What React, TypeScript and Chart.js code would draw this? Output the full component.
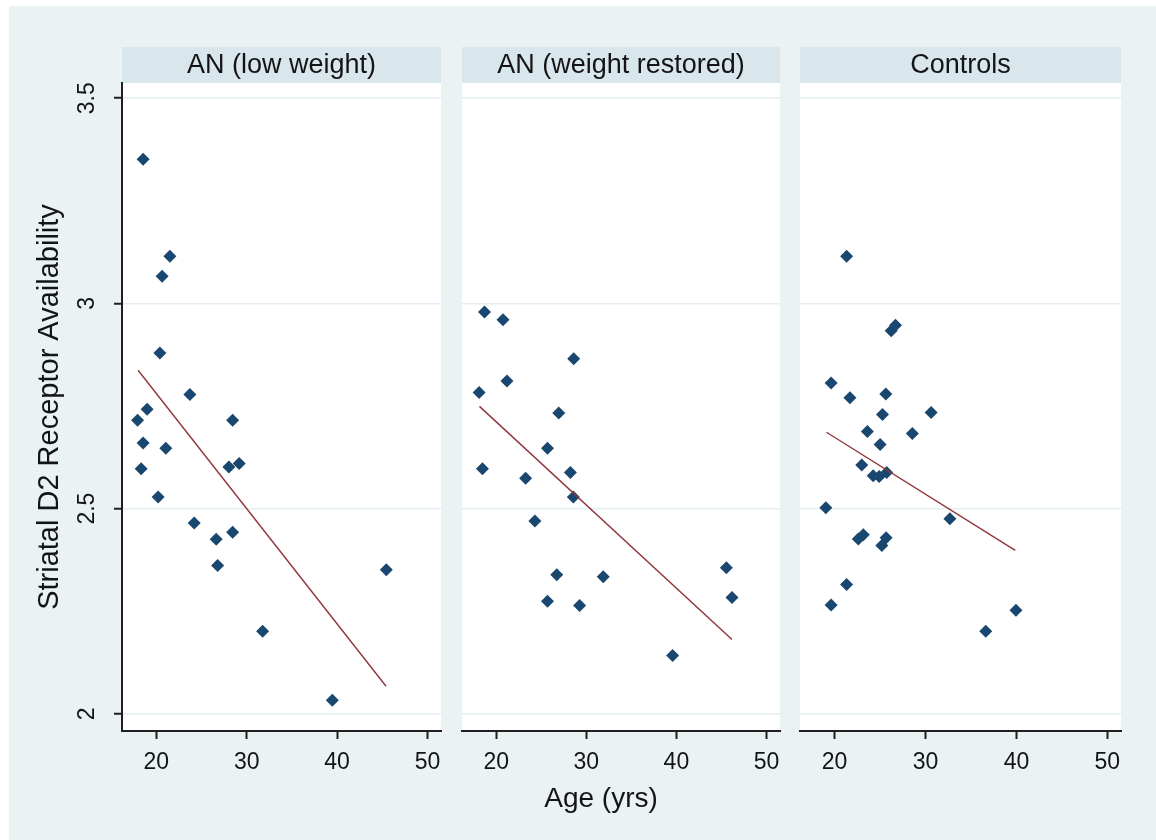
import React, { useEffect, useRef } from 'react';
import { Chart, registerables } from 'chart.js';

Chart.register(...registerables);

// ---------- data ----------
const panelTitles = ['AN (low weight)', 'AN (weight restored)', 'Controls'];

const xTicks = [20, 30, 40, 50];
const xTickLabels = ['20', '30', '40', '50'];
const yTicks = [2, 2.5, 3, 3.5];
const yTickLabels = ['2', '2.5', '3', '3.5'];

const lowAge = [18.54, 21.5, 20.64, 20.39, 23.71, 18.98, 17.92, 28.44, 18.54, 21.05, 18.32, 28.03, 29.17, 20.2, 24.19, 26.62, 28.44, 26.78, 45.45, 31.76, 39.47];
const lowD2 = [3.351, 3.115, 3.066, 2.879, 2.778, 2.742, 2.715, 2.715, 2.66, 2.647, 2.597, 2.601, 2.61, 2.528, 2.465, 2.425, 2.442, 2.361, 2.351, 2.201, 2.033];
const lowFitAge = [17.98, 45.42];
const lowFitD2 = [2.837, 2.067];

const restAge = [18.7, 20.75, 28.6, 21.19, 18.1, 26.94, 25.69, 18.47, 23.26, 28.23, 28.56, 24.29, 45.55, 26.72, 31.88, 46.17, 25.69, 29.26, 39.58];
const restD2 = [2.979, 2.96, 2.865, 2.811, 2.783, 2.733, 2.647, 2.597, 2.574, 2.588, 2.528, 2.47, 2.356, 2.339, 2.334, 2.283, 2.274, 2.264, 2.142];
const restFitAge = [18.14, 46.17];
const restFitD2 = [2.749, 2.181];

const ctrlAge = [21.33, 26.7, 26.23, 19.62, 21.69, 25.64, 25.27, 30.62, 23.61, 28.55, 25.01, 22.99, 24.25, 24.91, 25.73, 19.04, 32.68, 23.16, 22.61, 25.67, 25.2, 21.33, 19.62, 39.95, 36.63];
const ctrlD2 = [3.115, 2.947, 2.933, 2.806, 2.77, 2.779, 2.729, 2.734, 2.688, 2.683, 2.656, 2.606, 2.58, 2.578, 2.588, 2.502, 2.475, 2.436, 2.426, 2.429, 2.41, 2.315, 2.265, 2.252, 2.201];
const ctrlFitAge = [19.11, 39.87];
const ctrlFitD2 = [2.686, 2.398];

const yTitle = 'Striatal D2 Receptor Availability';
const xTitle = 'Age (yrs)';

// ---------- style ----------
const FONT = "'Liberation Sans', Arial, Helvetica, sans-serif";
const OUTER_BG = '#EAF2F3';
const HEADER_BG = '#D9E6EB';
const GRID = '#E4EDF0';
const AXIS = '#1f1f1f';
const TEXT = '#141414';
const MARKER = '#1A476F';
const FIT = '#90353B';

const X_MIN = 16.2;
const X_MAX = 51.5;
const Y_MIN = 1.958;
const Y_MAX = 3.537;

const headerPlugin = {
  id: 'panelHeader',
  beforeDraw(chart: any, _args: any, opts: any) {
    const { ctx, chartArea } = chart;
    const { left, top, width, height } = chartArea;
    ctx.save();
    ctx.fillStyle = '#ffffff';
    ctx.fillRect(left, top, width, height);
    ctx.fillStyle = HEADER_BG;
    ctx.fillRect(left, top - opts.height, width, opts.height);
    ctx.fillStyle = TEXT;
    ctx.font = `${opts.size}px ${FONT}`;
    ctx.textAlign = 'center';
    ctx.textBaseline = 'middle';
    ctx.fillText(opts.text, left + width / 2, top - opts.height / 2 + 1);
    ctx.restore();
  },
};

function toPoints(xs: number[], ys: number[]) {
  return xs.map((x, i) => ({ x, y: ys[i] }));
}

function makeConfig(idx: number, ages: number[], d2: number[], fitAges: number[], fitD2: number[], padding: any) {
  const first = idx === 0;
  const yScale: any = {
    type: 'linear',
    min: Y_MIN,
    max: Y_MAX,
    afterBuildTicks: (s: any) => {
      s.ticks = yTicks.map((v) => ({ value: v }));
    },
    afterFit: (s: any) => {
      s.width = first ? 113 : 0;
    },
    grid: {
      color: GRID,
      lineWidth: 1.5,
      drawTicks: first,
      tickLength: 8,
      tickColor: AXIS,
      tickWidth: 2,
    },
    border: { display: first, color: AXIS, width: 2 },
    ticks: {
      display: first,
      callback: (_v: any, i: number) => yTickLabels[i],
      minRotation: 90,
      maxRotation: 90,
      crossAlign: 'center',
      padding: 10,
      color: TEXT,
      font: { family: FONT, size: 23 },
    },
    title: {
      display: first,
      text: yTitle,
      color: TEXT,
      font: { family: FONT, size: 29, lineHeight: 1 },
      padding: { top: 26, bottom: 0 },
    },
  };
  return {
    type: 'scatter',
    data: {
      datasets: [
        {
          type: 'scatter',
          data: toPoints(fitAges, fitD2),
          showLine: true,
          borderColor: FIT,
          borderWidth: 1.4,
          pointRadius: 0,
          pointHoverRadius: 0,
        },
        {
          type: 'scatter',
          data: toPoints(ages, d2),
          pointStyle: 'rectRot',
          pointRadius: 6.5,
          pointHoverRadius: 6.5,
          backgroundColor: MARKER,
          borderColor: MARKER,
          borderWidth: 0,
        },
      ],
    },
    options: {
      animation: false,
      responsive: false,
      maintainAspectRatio: false,
      layout: { padding },
      plugins: {
        legend: { display: false },
        tooltip: { enabled: false },
        title: { display: false },
        panelHeader: { text: panelTitles[idx], height: 36, size: 27 },
      },
      scales: {
        x: {
          type: 'linear',
          min: X_MIN,
          max: X_MAX,
          afterBuildTicks: (s: any) => {
            s.ticks = xTicks.map((v) => ({ value: v }));
          },
          afterFit: (s: any) => {
            s.height = 109;
          },
          grid: {
            drawOnChartArea: false,
            drawTicks: true,
            tickLength: 8,
            tickColor: AXIS,
            tickWidth: 2,
          },
          border: { display: true, color: AXIS, width: 2 },
          ticks: {
            autoSkip: false,
            minRotation: 0,
            maxRotation: 0,
            padding: 10,
            callback: (_v: any, i: number) => xTickLabels[i],
            color: TEXT,
            font: { family: FONT, size: 23 },
          },
        },
        y: yScale,
      },
    },
    plugins: [headerPlugin],
  } as any;
}

const panels = [
  { left: 9, width: 442, padding: { top: 77, right: 10, bottom: 0, left: 0 }, ages: lowAge, d2: lowD2, fa: lowFitAge, fd: lowFitD2 },
  { left: 451, width: 339, padding: { top: 77, right: 10, bottom: 0, left: 11 }, ages: restAge, d2: restD2, fa: restFitAge, fd: restFitD2 },
  { left: 790, width: 366, padding: { top: 77, right: 35, bottom: 0, left: 10 }, ages: ctrlAge, d2: ctrlD2, fa: ctrlFitAge, fd: ctrlFitD2 },
];

const CANVAS_TOP = 6;
const CANVAS_H = 834;

export default function App() {
  const r0 = useRef<HTMLCanvasElement>(null);
  const r1 = useRef<HTMLCanvasElement>(null);
  const r2 = useRef<HTMLCanvasElement>(null);

  useEffect(() => {
    const refs = [r0, r1, r2];
    const charts = panels.map((p, i) => {
      const c = refs[i].current as HTMLCanvasElement;
      return new Chart(c, makeConfig(i, p.ages, p.d2, p.fa, p.fd, p.padding));
    });
    return () => charts.forEach((c) => c.destroy());
  }, []);

  const refs = [r0, r1, r2];
  return (
    <div style={{ position: 'absolute', left: 0, top: 0, width: 1156, height: 840, background: '#ffffff', overflow: 'hidden' }}>
      <div style={{ position: 'absolute', left: 9, top: 6, width: 1147, height: 834, background: OUTER_BG }} />
      {panels.map((p, i) => (
        <canvas
          key={i}
          ref={refs[i]}
          width={p.width}
          height={CANVAS_H}
          style={{ position: 'absolute', left: p.left, top: CANVAS_TOP, width: p.width, height: CANVAS_H }}
        />
      ))}
      <div
        style={{
          position: 'absolute',
          left: 601,
          top: 798,
          transform: 'translate(-50%, -50%)',
          fontFamily: FONT,
          fontSize: 28,
          color: TEXT,
          whiteSpace: 'nowrap',
          lineHeight: 1,
        }}
      >
        {xTitle}
      </div>
    </div>
  );
}
